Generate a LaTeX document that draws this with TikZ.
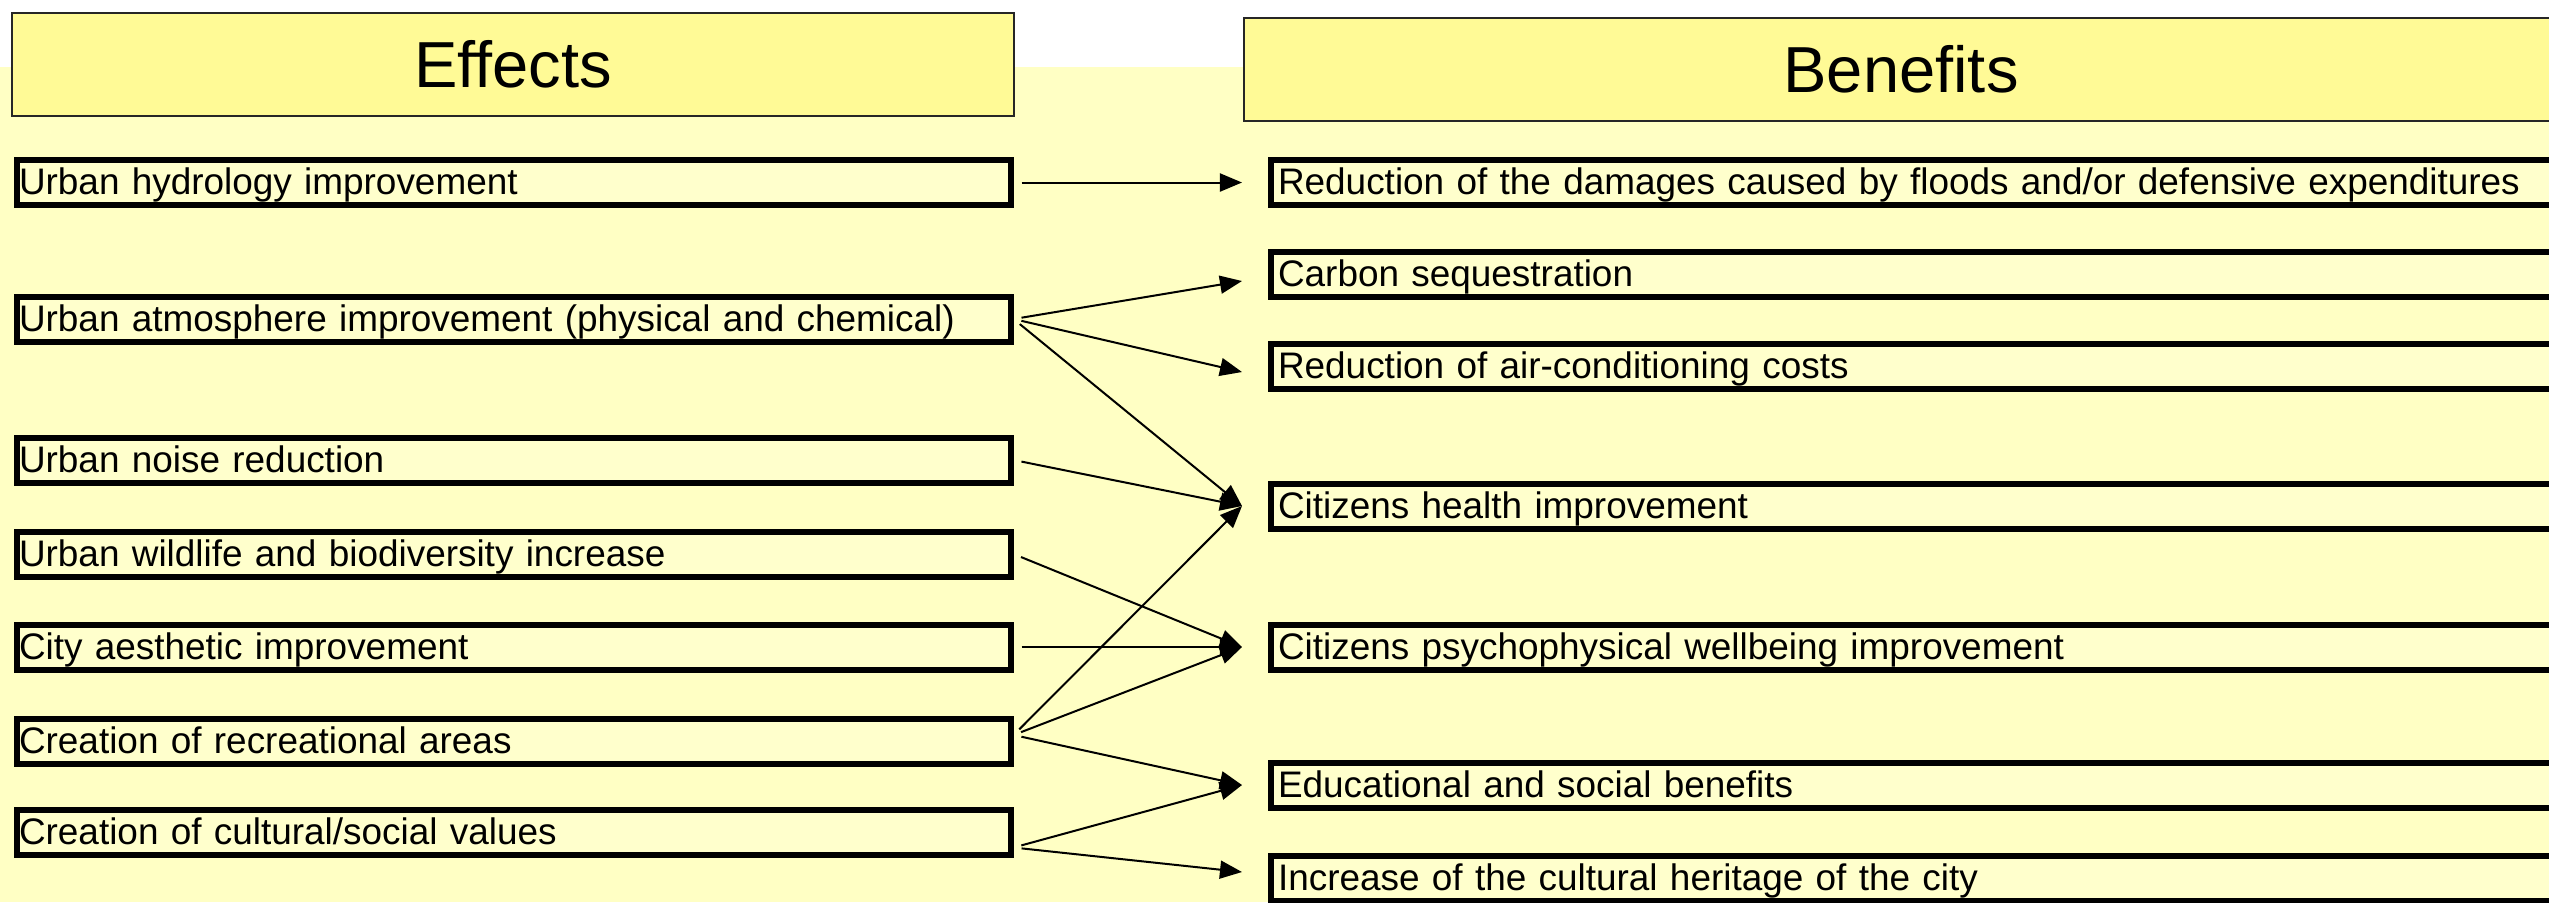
\documentclass[tikz,border=0pt]{standalone}
\usepackage{fontspec}
\setmainfont{Liberation Sans}
\usetikzlibrary{arrows.meta}
\definecolor{pageyellow}{RGB}{255,255,196}
\definecolor{headyellow}{RGB}{255,250,150}
\definecolor{boxyellow}{RGB}{255,255,204}

\begin{document}
\begin{tikzpicture}[
x=0.01cm, y=-0.01cm,
header/.style={rectangle,draw=black!85,fill=headyellow,line width=0.02cm,minimum width=10.02cm,
  minimum height=1.03cm,inner sep=0pt,font=\fontsize{18.5pt}{22pt}\selectfont},
effect/.style={rectangle,draw=black,fill=boxyellow,line width=0.06cm,anchor=west,minimum width=9.93cm,
  minimum height=0.45cm,text width=9.89cm,inner xsep=0.02cm,inner ysep=0pt,text height=0.85em,
  text depth=0.15em,align=left,font=\fontsize{10.5pt}{12pt}\selectfont},
benefit/.style={effect,minimum width=12.97cm,text width=12.83cm,inner xsep=0.07cm},
arrow/.style={-{Triangle[length=0.22cm,width=0.18cm]},line width=0.02cm,shorten <=0.08cm}
]
\clip (0,0) rectangle (2549,902);
\fill[pageyellow] (0,67) rectangle (2549,902);

\node[header] (effects) at (513,64.5) {Effects};
\node[header,minimum width=13.14cm] (benefits) at (1901,69.5) {Benefits};

\node[effect] (hydro) at (14,182.5) {Urban hydrology improvement};
\node[effect] (atmo) at (14,319) {Urban atmosphere improvement (physical and chemical)};
\node[effect] (noise) at (14,460) {Urban noise reduction};
\node[effect] (wild) at (14,554) {Urban wildlife and biodiversity increase};
\node[effect] (aesth) at (14,647) {City aesthetic improvement};
\node[effect] (recr) at (14,741) {Creation of recreational areas};
\node[effect] (cult) at (14,832.5) {Creation of cultural/social values};

\node[benefit] (floods) at (1268,182.5) {Reduction of the damages caused by floods and/or defensive expenditures};
\node[benefit] (carbon) at (1268,274) {Carbon sequestration};
\node[benefit] (aircon) at (1268,366) {Reduction of air-conditioning costs};
\node[benefit] (health) at (1268,506) {Citizens health improvement};
\node[benefit] (wellbeing) at (1268,647) {Citizens psychophysical wellbeing improvement};
\node[benefit] (edu) at (1268,785) {Educational and social benefits};
\node[benefit] (heritage) at (1268,878) {Increase of the cultural heritage of the city};

\draw[arrow] (hydro.east) -- ([xshift=-0.26cm]floods.west);
\draw[arrow] (atmo.east) -- ([xshift=-0.26cm,yshift=-0.07cm]carbon.west);
\draw[arrow] (atmo.east) -- ([xshift=-0.26cm,yshift=-0.06cm]aircon.west);
\draw[arrow] (atmo.east) -- ([xshift=-0.26cm]health.west);
\draw[arrow] (noise.east) -- ([xshift=-0.26cm]health.west);
\draw[arrow] (wild.east) -- ([xshift=-0.26cm]wellbeing.west);
\draw[arrow] (aesth.east) -- ([xshift=-0.26cm]wellbeing.west);
\draw[arrow] ([yshift=0.06cm]recr.east) -- ([xshift=-0.26cm]health.west);
\draw[arrow] ([yshift=0.06cm]recr.east) -- ([xshift=-0.26cm]wellbeing.west);
\draw[arrow] ([yshift=0.06cm]recr.east) -- ([xshift=-0.26cm]edu.west);
\draw[arrow] ([yshift=-0.15cm]cult.east) -- ([xshift=-0.26cm]edu.west);
\draw[arrow] ([yshift=-0.15cm]cult.east) -- ([xshift=-0.26cm,yshift=0.06cm]heritage.west);

\end{tikzpicture}
\end{document}
